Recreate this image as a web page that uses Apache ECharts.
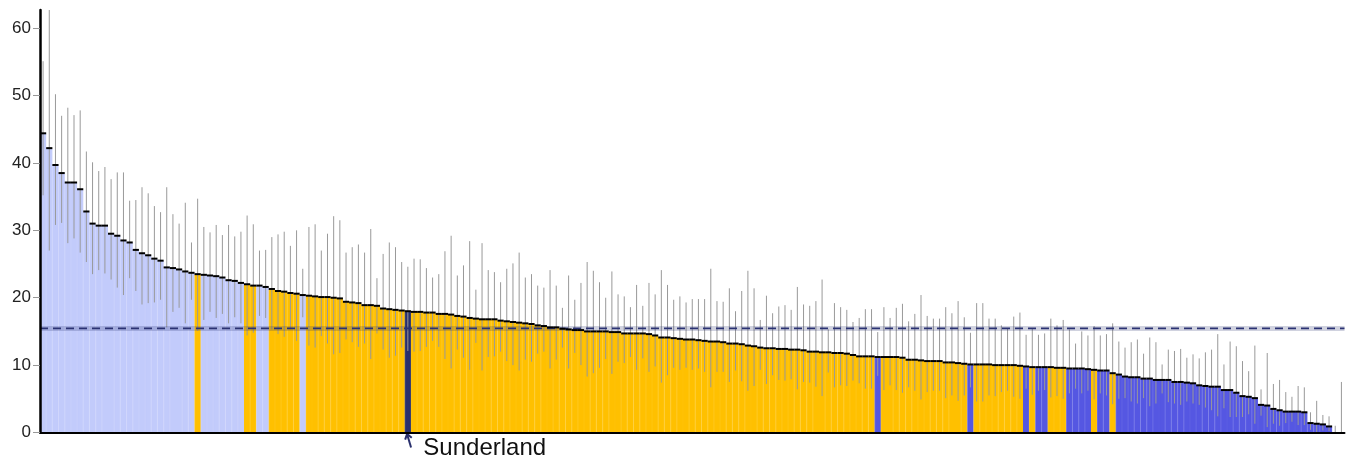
<!DOCTYPE html>
<html><head><meta charset="utf-8">
<script src="https://cdn.jsdelivr.net/npm/echarts@6/dist/echarts.min.js"></script>
<style>html,body{margin:0;padding:0;background:#fff}#chart{width:1352px;height:460px}</style>
</head><body><div id="chart"></div>
<script>
// Rate per area, sorted descending
const rates = [
44.4,42.2,39.7,38.5,37.1,37.1,36.1,32.8,31.0,30.7,
30.7,29.5,29.2,28.5,28.2,27.1,26.6,26.3,25.8,25.5,
24.5,24.4,24.2,23.9,23.7,23.5,23.4,23.3,23.2,23.0,
22.6,22.5,22.2,22.0,21.8,21.8,21.6,21.3,21.0,20.9,
20.7,20.6,20.4,20.3,20.2,20.1,20.1,20.0,19.9,19.4,
19.3,19.2,18.9,18.9,18.8,18.4,18.3,18.2,18.1,18.0,
17.9,17.9,17.8,17.8,17.6,17.6,17.5,17.3,17.2,17.0,
16.9,16.8,16.8,16.8,16.6,16.5,16.4,16.3,16.2,16.1,
15.9,15.8,15.6,15.6,15.4,15.3,15.2,15.2,15.0,15.0,
15.0,15.0,14.9,14.9,14.7,14.7,14.7,14.7,14.6,14.4,
14.1,14.1,14.0,13.9,13.8,13.8,13.7,13.6,13.5,13.5,
13.4,13.2,13.2,13.1,12.9,12.8,12.6,12.5,12.5,12.4,
12.4,12.3,12.3,12.2,12.0,12.0,11.9,11.9,11.8,11.8,
11.7,11.5,11.3,11.3,11.3,11.2,11.2,11.2,11.2,11.1,
10.8,10.8,10.7,10.6,10.6,10.6,10.4,10.4,10.3,10.2,
10.1,10.1,10.1,10.1,10.0,10.0,10.0,10.0,9.9,9.8,
9.7,9.7,9.7,9.7,9.6,9.6,9.5,9.5,9.5,9.4,
9.3,9.2,9.2,8.8,8.6,8.3,8.2,8.2,8.0,8.0,
7.8,7.8,7.8,7.5,7.5,7.4,7.3,7.0,6.9,6.8,
6.8,6.3,6.3,5.9,5.4,5.3,5.1,4.1,4.0,3.5,
3.3,3.1,3.1,3.1,3.0,1.4,1.3,1.2,0.9,0,0
];
const lowerCI = [
35.2,27.0,30.8,31.1,28.1,28.8,26.7,25.3,23.5,24.1,
23.6,22.7,21.5,20.4,22.9,21.0,19.0,19.2,19.3,19.7,
15.6,17.9,18.5,16.2,19.7,15.1,16.7,17.9,17.0,17.6,
16.2,17.1,16.2,14.4,14.8,17.3,17.0,15.3,14.6,14.2,
15.3,13.6,17.1,12.9,12.6,14.3,13.2,11.6,11.8,13.8,
13.4,12.7,13.2,10.9,14.7,12.3,11.1,11.4,12.6,12.1,
12.0,12.1,12.7,13.6,12.7,10.9,9.5,12.3,11.1,9.3,
13.3,9.2,11.2,11.3,12.0,10.6,10.0,9.2,10.8,10.5,
11.7,12.0,9.5,10.8,12.6,9.5,11.8,10.0,8.3,8.8,
9.6,10.9,8.7,10.5,10.3,11.2,9.3,11.0,9.0,9.8,
7.4,8.5,9.6,9.3,9.6,9.3,9.5,9.0,6.7,9.0,
9.0,7.5,9.2,7.6,6.2,6.9,9.3,7.2,8.5,7.8,
7.7,7.9,6.4,7.5,7.4,6.8,5.4,8.9,6.7,7.0,
6.9,7.7,7.3,6.5,6.5,8.4,6.3,7.0,6.3,5.9,
6.7,6.2,4.9,6.0,6.2,6.2,5.1,5.5,4.7,5.5,
6.7,4.6,4.6,5.5,5.4,6.0,6.2,5.3,5.0,6.5,
5.6,6.2,6.3,5.2,5.4,5.0,5.8,6.5,5.8,6.2,
4.9,5.8,5.5,4.2,5.0,5.1,4.6,4.3,5.1,3.9,
4.3,5.8,4.5,4.3,4.1,4.6,4.3,4.1,3.7,3.3,
2.4,3.6,2.3,2.3,2.3,2.7,1.3,2.5,0.8,1.3,
1.0,1.4,1.6,1.1,1.1,0.4,0.05,0.3,0.2,0,0
];
const upperCI = [
55.1,66.0,50.2,47.0,48.2,47.1,47.8,41.7,40.1,38.8,
39.4,37.6,38.6,38.6,34.4,34.5,36.4,35.5,33.6,32.7,
36.4,32.4,31.0,34.1,28.2,34.7,30.5,29.7,30.8,29.3,
30.8,29.1,29.8,32.2,30.9,27.0,27.1,29.0,29.4,29.8,
27.7,30.0,24.3,30.5,30.9,27.0,29.5,32.1,31.5,26.7,
27.5,27.9,26.7,30.2,22.9,26.5,28.2,27.5,25.3,24.6,
25.8,25.7,24.4,23.0,23.5,26.9,29.2,23.3,24.8,28.4,
21.2,28.1,24.1,23.8,22.3,24.3,25.1,26.7,23.0,23.5,
21.8,21.5,24.1,21.8,18.5,23.3,19.7,22.2,25.3,24.0,
22.3,20.0,23.9,20.5,20.2,18.6,21.9,18.8,22.2,20.5,
24.1,21.9,19.7,20.2,19.3,19.8,19.8,19.8,24.3,19.5,
19.4,21.4,18.0,21.0,24.0,21.4,16.7,20.3,17.7,18.7,
18.9,18.2,21.6,19.0,18.8,19.5,22.7,15.3,19.2,18.6,
18.2,16.4,17.0,18.3,18.3,14.9,18.6,17.0,18.5,19.1,
16.5,17.6,20.4,17.3,16.9,16.9,18.6,17.7,19.5,17.1,
14.8,19.2,19.2,16.9,16.9,15.9,15.4,17.2,17.8,14.5,
15.4,14.5,14.7,16.9,15.9,16.7,15.3,13.2,15.0,14.4,
15.8,14.4,14.6,16.2,13.5,12.6,13.4,13.8,11.7,14.1,
13.4,10.1,12.3,12.1,12.4,11.1,11.6,11.0,11.9,12.3,
14.6,10.1,13.5,12.8,10.6,9.1,12.9,6.4,11.8,7.2,
7.8,6.0,5.3,6.9,6.7,3.0,4.7,2.6,2.4,1.0,7.5
];
// H = significantly higher, S = similar, L = significantly lower, X = highlighted area
const significance = (
  'HHHHHHHHHH' + 'HHHHHHHHHH' + 'HHHHHSHHHH' + 'HHHSSHHSSS' +
  'SSHSSSSSSS' + 'SSSSSSSSSX' + 'SSSSSSSSSS' + 'SSSSSSSSSS' +
  'SSSSSSSSSS' + 'SSSSSSSSSS' + 'SSSSSSSSSS' + 'SSSSSSSSSS' +
  'SSSSSSSSSS' + 'SSSSSLSSSS' + 'SSSSSSSSSS' + 'LSSSSSSSSL' +
  'SLLSSSLLLL' + 'SLLSLLLLLL' + 'LLLLLLLLLL' + 'LLLLLLLLLL' + 'LLLLLLLLLLL'
).split('');
const highlightName = 'Sunderland';
const highlightIndex = 59;
const englandValue = 15.45, englandLower = 15.05, englandUpper = 15.8;
const yTicks = [0, 10, 20, 30, 40, 50, 60];
const categories = rates.map((_, i) => i === highlightIndex ? highlightName : 'Area ' + (i + 1));

const groupColors = { H: '#c2cbfb', S: '#ffc000', L: '#5557e2', X: '#29306d' };
const FONT = '"Liberation Sans", Arial, Helvetica, sans-serif';

const chart = echarts.init(document.getElementById('chart'), null, { renderer: 'canvas' });
chart.setOption({
  animation: false,
  backgroundColor: '#fff',
  grid: { left: 40, right: 7.5, top: 10, bottom: 27.5 },
  xAxis: {
    type: 'category', data: categories, boundaryGap: true, z: 10,
    axisLine: { show: true, lineStyle: { color: '#000', width: 2 } },
    axisTick: { show: false }, axisLabel: { show: false }, splitLine: { show: false }
  },
  yAxis: {
    type: 'value', min: 0, max: 62.7, interval: 10, z: 10,
    splitLine: { show: false },
    axisLine: { show: true, lineStyle: { color: '#000', width: 2.5 } },
    axisTick: { show: true, length: 7, customValues: yTicks, lineStyle: { color: '#999', width: 1 } },
    axisLabel: { customValues: yTicks, fontSize: 17, color: '#222', margin: 9, fontFamily: FONT }
  },
  series: [
    {
      type: 'bar', z: 1,
      barCategoryGap: '0%', barGap: '0%',
      data: rates.map((v, i) => ({ value: v, itemStyle: { color: groupColors[significance[i]], borderColor: groupColors[significance[i]], borderWidth: 1 } })),
      silent: true
    },
    {
      type: 'custom', z: 3, clip: true, silent: true,
      data: rates.map((v, i) => [i, lowerCI[i], upperCI[i]]),
      encode: { x: 0, y: [1, 2] },
      renderItem: function (params, api) {
        const lo = api.coord([api.value(0), api.value(1)]);
        const hi = api.coord([api.value(0), api.value(2)]);
        return { type: 'line', shape: { x1: lo[0], y1: lo[1], x2: hi[0], y2: hi[1] },
                 style: { stroke: '#999', lineWidth: 1 } };
      }
    },
    {
      type: 'custom', z: 4, silent: true,
      data: [[0, englandLower, englandUpper, englandValue]],
      encode: { x: 0, y: [1, 2, 3] },
      renderItem: function (params, api) {
        const cs = params.coordSys;
        const yLo = api.coord([0, api.value(1)])[1];
        const yHi = api.coord([0, api.value(2)])[1];
        const yMid = api.coord([0, api.value(3)])[1];
        return { type: 'group', children: [
          { type: 'rect', shape: { x: cs.x, y: yHi, width: cs.width, height: yLo - yHi },
            style: { fill: 'rgba(42,48,110,0.22)' } },
          { type: 'line', shape: { x1: cs.x, y1: yMid, x2: cs.x + cs.width, y2: yMid },
            style: { stroke: '#2b3273', lineWidth: 1.6, lineDash: [8, 5] } }
        ] };
      }
    },
    {
      type: 'custom', z: 5, silent: true,
      data: rates.map((v, i) => [i, v]),
      encode: { x: 0, y: 1 },
      renderItem: function (params, api) {
        const v = api.value(1);
        if (!(v > 0)) return;
        const c = api.coord([api.value(0), v]);
        const w = api.size([1, 0])[0];
        return { type: 'line', shape: { x1: c[0] - w / 2, y1: c[1], x2: c[0] + w / 2, y2: c[1] },
                 style: { stroke: '#000', lineWidth: 2 } };
      }
    },
    {
      type: 'custom', z: 6, clip: false, silent: true,
      data: [[highlightIndex, 0]],
      encode: { x: 0, y: 1 },
      renderItem: function (params, api) {
        const p = api.coord([api.value(0), api.value(1)]);
        const tip = [p[0] - 0.8, p[1] + 1.5];
        const tail = [p[0] + 3.2, p[1] + 15];
        const dx = tip[0] - tail[0], dy = tip[1] - tail[1];
        const len = Math.sqrt(dx * dx + dy * dy);
        const ux = dx / len, uy = dy / len;
        const L = 6, a = 35 * Math.PI / 180;
        const arm = s => [tip[0] - L * (ux * Math.cos(a) - s * uy * Math.sin(a)),
                          tip[1] - L * (s * ux * Math.sin(a) + uy * Math.cos(a))];
        return { type: 'group', children: [
          { type: 'line', shape: { x1: tail[0], y1: tail[1], x2: tip[0], y2: tip[1] },
            style: { stroke: '#29306d', lineWidth: 2 } },
          { type: 'polyline', shape: { points: [arm(1), tip, arm(-1)] },
            style: { stroke: '#29306d', lineWidth: 2, fill: null } },
          { type: 'text', x: p[0] + 15.5, y: p[1] + 15.5,
            style: { text: highlightName, fontSize: 24, fontFamily: FONT, fill: '#111',
                     align: 'left', verticalAlign: 'middle' } }
        ] };
      }
    }
  ]
});
</script>
</body></html>
